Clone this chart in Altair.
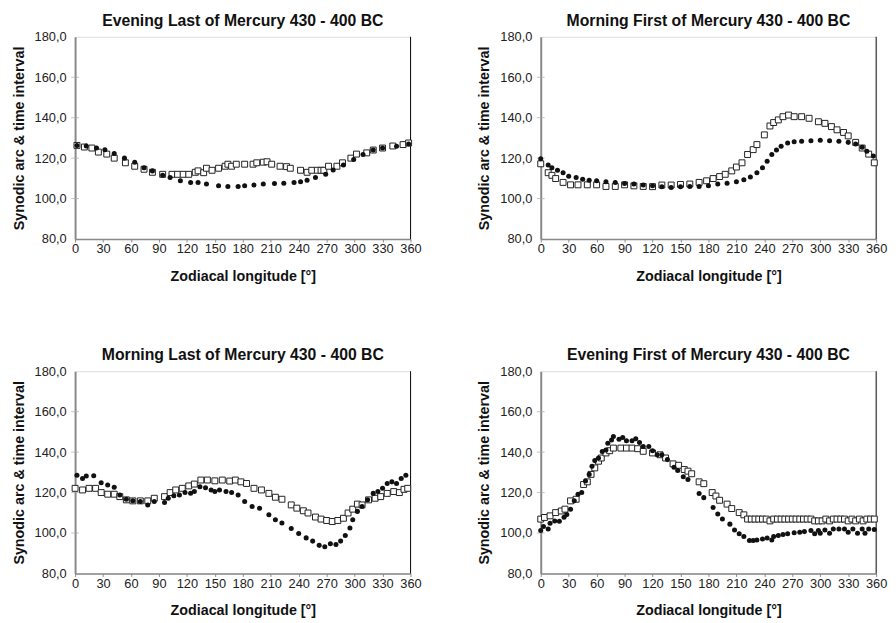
import altair as alt
import pandas as pd

# ---------------- Data ----------------
# Panel 1: Evening Last
el_dot_lon = [2, 12, 23, 32, 42, 53, 64, 74, 83, 94, 102, 113, 124, 132, 141, 154, 164, 175, 182, 192,
              202, 214, 224, 235, 242, 249, 258, 269, 277, 288, 299, 309, 320, 330, 345, 358]
el_dot_val = [126.3, 126.0, 125.0, 124.2, 122.3, 120.0, 118.0, 115.3, 113.7, 111.5, 110.4, 108.8, 108.0, 108.0,
              107.2, 106.3, 106.0, 106.0, 106.3, 106.7, 107.2, 107.5, 107.6, 108.0, 108.3, 109.1, 110.4, 112.0,
              114.1, 116.6, 119.3, 121.8, 124.0, 125.0, 125.9, 127.0]
el_sq_lon = [2, 10, 18, 25, 34, 42, 54, 64, 74, 83, 94, 104, 110, 116, 122, 129, 132, 138, 141, 147, 154,
             161, 164, 168, 173, 182, 191, 195, 202, 206, 211, 220, 227, 231, 242, 249, 254, 260, 264, 267,
             272, 281, 287, 296, 302, 313, 320, 330, 341, 352, 358]
el_sq_val = [126.3, 125.5, 125.0, 123.0, 122.0, 120.0, 117.7, 116.0, 114.5, 113.0, 112.0, 112.0, 112.0, 112.0,
             112.0, 113.0, 113.7, 112.8, 115.0, 114.0, 115.0, 116.0, 117.0, 116.0, 117.0, 117.0, 117.0, 117.7,
             118.0, 118.2, 117.0, 116.0, 115.8, 115.0, 114.0, 113.0, 114.0, 114.0, 114.0, 114.0, 116.0, 116.0,
             117.7, 120.0, 122.0, 122.6, 124.0, 125.0, 126.0, 126.7, 127.5]

# Panel 2: Morning First
mf_dot_lon = [0, 8, 12, 18, 24, 30, 38, 45, 52, 60, 70, 80, 90, 100, 110, 120, 130, 140, 150, 160, 170,
              180, 190, 200, 210, 218, 225, 232, 238, 243, 248, 253, 258, 265, 272, 280, 290, 300, 310, 320,
              330, 338, 345, 350, 357]
mf_dot_val = [119.7, 116.6, 115.3, 114.0, 112.8, 111.0, 110.4, 109.6, 109.1, 108.8, 108.3, 108.0, 107.5, 107.2,
              106.7, 106.3, 105.9, 105.5, 105.9, 106.0, 106.0, 106.3, 107.2, 107.6, 108.3, 109.3, 110.7, 112.8,
              115.3, 118.5, 121.8, 124.0, 125.9, 127.5, 128.1, 128.3, 128.6, 128.8, 128.6, 128.3, 127.8, 127.0,
              125.4, 123.4, 121.0]
mf_sq_lon = [0, 8, 12, 16, 24, 32, 40, 50, 60, 70, 80, 90, 100, 110, 120, 130, 140, 150, 160, 170, 178,
             185, 192, 198, 205, 210, 216, 222, 228, 232, 240, 246, 250, 255, 260, 266, 272, 280, 288, 298,
             305, 312, 318, 325, 330, 338, 345, 352, 358]
mf_sq_val = [117.2, 112.8, 111.5, 109.9, 108.0, 106.8, 106.8, 106.8, 106.8, 106.0, 106.0, 106.8, 106.3, 106.0,
             105.9, 106.7, 106.7, 107.0, 107.2, 108.0, 108.8, 109.9, 110.9, 112.0, 113.7, 115.6, 117.7, 121.8,
             124.2, 126.7, 131.5, 135.9, 137.6, 138.9, 140.5, 141.3, 140.5, 140.5, 139.7, 138.0, 137.2, 135.6,
             134.0, 132.7, 131.0, 127.8, 125.0, 122.0, 117.7]

# Panel 3: Morning Last
ml_dot_lon = [2, 8, 12, 20, 28, 35, 42, 48, 55, 62, 70, 78, 85, 96, 100, 106, 112, 118, 124, 128, 134,
              140, 146, 150, 155, 162, 168, 175, 182, 190, 198, 208, 215, 222, 232, 240, 248, 255, 262, 268,
              274, 280, 285, 290, 295, 298, 303, 308, 314, 320, 325, 330, 335, 340, 345, 350, 355]
ml_dot_val = [128.6, 127.0, 128.2, 128.3, 124.9, 123.7, 122.6, 118.8, 116.7, 116.0, 115.6, 113.9, 115.6, 115.1,
              117.2, 118.4, 118.8, 120.0, 119.7, 120.5, 122.9, 122.4, 121.3, 120.5, 121.3, 120.5, 120.0, 118.8,
              115.6, 113.1, 112.3, 109.0, 106.6, 105.0, 102.2, 99.8, 97.6, 96.0, 93.9, 93.2, 94.7, 94.3, 96.0,
              98.8, 102.5, 106.6, 110.7, 113.1, 116.4, 119.6, 120.5, 122.1, 124.5, 125.3, 124.5, 127.0, 128.6]
ml_sq_lon = [0, 8, 15, 22, 28, 35, 42, 48, 55, 62, 70, 78, 85, 96, 102, 108, 115, 122, 128, 135, 142, 150,
             158, 166, 172, 178, 184, 192, 200, 208, 215, 222, 232, 238, 245, 250, 258, 264, 270, 276, 282,
             288, 293, 298, 303, 308, 315, 322, 328, 335, 342, 348, 353, 357]
ml_sq_val = [122.1, 121.3, 122.1, 122.1, 120.0, 119.2, 119.2, 118.0, 116.4, 115.9, 115.9, 115.9, 117.2, 118.0,
             120.0, 121.3, 122.1, 123.3, 124.2, 126.2, 126.2, 125.8, 126.2, 125.7, 126.2, 125.3, 124.5, 122.1,
             121.3, 119.6, 117.7, 116.7, 113.9, 112.3, 111.0, 109.9, 107.9, 106.9, 106.2, 105.7, 106.2, 107.3,
             109.9, 111.8, 114.3, 113.9, 116.4, 117.2, 118.0, 119.6, 120.5, 120.0, 121.6, 122.1]

# Panel 4: Evening First
ef_dot_lon = [0, 3, 8, 10, 15, 20, 25, 28, 32, 36, 40, 44, 48, 52, 55, 58, 62, 66, 70, 72, 76, 78, 84, 88,
              92, 98, 102, 106, 110, 116, 120, 125, 130, 136, 143, 147, 153, 158, 170, 175, 185, 190, 195,
              203, 208, 213, 218, 224, 228, 232, 238, 243, 248, 250, 255, 260, 265, 272, 278, 283, 290, 294,
              298, 300, 305, 310, 314, 320, 326, 330, 335, 340, 345, 348, 352, 358]
ef_dot_val = [101.2, 103.2, 102.0, 104.8, 106.0, 105.8, 107.8, 109.1, 111.8, 115.9, 119.2, 120.0, 125.7, 129.0,
              133.0, 135.8, 137.1, 140.3, 141.1, 144.4, 146.0, 147.7, 146.4, 147.2, 145.6, 145.6, 146.6, 144.8,
              142.8, 142.8, 140.7, 138.7, 138.7, 136.3, 132.5, 130.9, 127.8, 126.5, 119.5, 117.5, 112.6, 109.4,
              106.9, 104.4, 101.5, 99.6, 98.3, 96.3, 96.3, 96.6, 97.1, 97.5, 96.6, 98.3, 98.8, 99.3, 99.6, 100.1,
              100.4, 100.7, 101.2, 99.6, 101.2, 99.9, 101.5, 99.9, 102.0, 102.0, 102.0, 100.4, 102.0, 99.9,
              102.0, 99.9, 102.0, 101.7]
ef_sq_lon = [0, 4, 10, 16, 22, 26, 32, 38, 46, 50, 54, 58, 62, 65, 70, 74, 78, 86, 92, 98, 104, 110, 120,
             128, 134, 142, 148, 154, 158, 162, 170, 175, 184, 188, 192, 200, 205, 213, 218, 222, 226, 230,
             234, 238, 242, 246, 250, 254, 258, 262, 266, 270, 274, 278, 282, 286, 290, 294, 298, 302, 306,
             310, 314, 318, 322, 326, 330, 334, 338, 342, 346, 350, 354, 358]
ef_sq_val = [106.9, 107.7, 108.5, 110.1, 110.9, 111.8, 115.9, 116.7, 124.0, 125.3, 129.0, 132.2, 135.5, 137.1,
             139.6, 140.7, 142.0, 142.0, 142.0, 142.0, 141.7, 140.4, 139.6, 138.7, 137.1, 134.2, 133.5, 131.4,
             130.6, 129.3, 125.3, 124.4, 120.0, 118.3, 116.2, 114.3, 112.1, 110.1, 109.0, 106.9, 106.9, 106.9,
             106.9, 106.9, 106.9, 106.0, 106.9, 106.9, 106.9, 106.9, 106.9, 106.9, 106.9, 106.9, 106.9, 106.9,
             106.9, 106.0, 106.0, 106.0, 106.9, 106.0, 106.9, 106.9, 106.9, 106.9, 106.0, 106.9, 106.0, 106.9,
             106.0, 106.9, 106.9, 106.9]

titles = ["Evening Last of Mercury 430 - 400 BC", "Morning First of Mercury 430 - 400 BC",
          "Morning Last of Mercury 430 - 400 BC", "Evening First of Mercury 430 - 400 BC"]
x_ticks = [0, 30, 60, 90, 120, 150, 180, 210, 240, 270, 300, 330, 360]
y_ticks = [80, 100, 120, 140, 160, 180]
inner_ticks = [100, 120, 140, 160]

FONT = "Liberation Sans"
W, H = 340, 205
XS = alt.Scale(domain=[0, 360], nice=False, zero=False)
YS = alt.Scale(domain=[80, 180], nice=False, zero=False)
XA = alt.Axis(values=x_ticks, title="Zodiacal longitude [°]", grid=False,
              labelOverlap=False, labelBound=False, labelFlush=False,
              tickSize=3, tickColor="#888", domainColor="#888", domainWidth=1.5,
              labelFontSize=13, labelColor="#222", labelPadding=1,
              titleFontSize=14.5, titleFontWeight="bold", titlePadding=14,
              titleColor="#111", labelFont=FONT, titleFont=FONT)
YA = alt.Axis(values=y_ticks, title="Synodic arc & time interval", grid=False,
              ticks=False, domainColor="#888", domainWidth=2, labelOverlap=False, labelFlush=False,
              labelExpr="replace(format(datum.value, '.1f'), '.', ',')",
              labelFontSize=13, labelColor="#222", labelPadding=9,
              titleFontSize=14.5, titleFontWeight="bold", titlePadding=8,
              titleColor="#111", labelFont=FONT, titleFont=FONT)


def panel(title, dlon, dval, slon, sval):
    dots = pd.DataFrame({"lon": dlon, "val": dval})
    sqs = pd.DataFrame({"lon": slon, "val": sval})
    ticks = pd.DataFrame({"lon": [0] * len(inner_ticks), "val": inner_ticks})
    x = alt.X("lon:Q", scale=XS, axis=XA)
    y = alt.Y("val:Q", scale=YS, axis=YA)
    sq = alt.Chart(sqs).mark_point(shape="square", size=36, filled=True, fill="white",
                                   stroke="#222", strokeWidth=1, opacity=1).encode(x=x, y=y)
    dt = alt.Chart(dots).mark_circle(size=26, color="#111", opacity=1).encode(x=x, y=y)
    tk = alt.Chart(ticks).mark_tick(color="#aaa", thickness=1, size=8, orient="horizontal").encode(x=x, y=y)
    right = alt.Chart(pd.DataFrame({"t": [0]})).mark_rule(color="#111", strokeWidth=1).encode(
        x=alt.value(W), y=alt.value(0), y2=alt.value(H))
    return alt.layer(tk, right, sq, dt).properties(
        width=W, height=H,
        title=alt.TitleParams(title, fontSize=16, fontWeight="bold", font=FONT, color="#111", offset=2))


p1 = panel(titles[0], el_dot_lon, el_dot_val, el_sq_lon, el_sq_val)
p2 = panel(titles[1], mf_dot_lon, mf_dot_val, mf_sq_lon, mf_sq_val)
p3 = panel(titles[2], ml_dot_lon, ml_dot_val, ml_sq_lon, ml_sq_val)
p4 = panel(titles[3], ef_dot_lon, ef_dot_val, ef_sq_lon, ef_sq_val)

chart = alt.vconcat(
    alt.hconcat(p1, p2, spacing=54),
    alt.hconcat(p3, p4, spacing=54),
    spacing=64,
).configure_view(stroke="#999", strokeWidth=1).configure(padding={"left": 2, "top": 0, "right": 0, "bottom": 0})

chart.save("out.html", embed_options={"renderer": "svg", "actions": False})
